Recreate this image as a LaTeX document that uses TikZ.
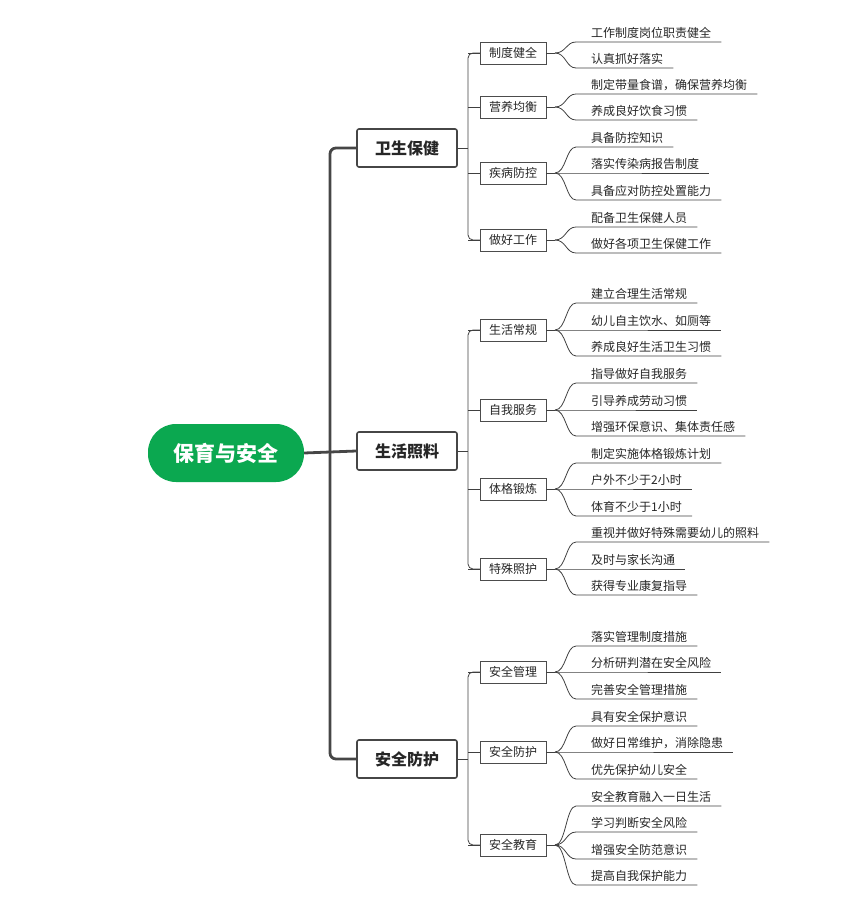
\documentclass[tikz,border=0pt]{standalone}
\usepackage{fontspec}
\setmainfont{Noto Sans CJK SC}
\begin{document}
\begin{tikzpicture}[x=1pt,y=-1pt,
 rootbox/.style={fill=rootgreen,text=white,rounded corners=28pt,minimum width=156pt,minimum height=58pt,font=\fontsize{21}{24}\selectfont\bfseries},
 lonebox/.style={draw=darkline,line width=1.6pt,rounded corners=2pt,minimum width=100pt,minimum height=38pt,font=\fontsize{16}{19}\selectfont\bfseries,text=black!85},
 ltwobox/.style={draw=black!70,line width=0.8pt,minimum width=66pt,minimum height=22pt,inner sep=0pt,font=\fontsize{12}{14}\selectfont,text=black!85},
 leaftext/.style={anchor=south west,inner xsep=0pt,inner ysep=3pt,font=\fontsize{12}{14}\selectfont,text=black!85},
 leafline/.style={draw=black!75,line width=0.8pt},
 spine/.style={draw=darkline,line width=2.8pt,rounded corners=6pt},
 midline/.style={draw=black!75,line width=0.8pt,rounded corners=5pt}]
\definecolor{rootgreen}{RGB}{11,168,80}
\definecolor{darkline}{RGB}{70,70,70}
\useasboundingbox (0,0) rectangle (860,901);
\newcommand\myleaf[3]{%
 \node[leaftext] (lf#2) at (591,#2) {#3};
 \draw[leafline] (555,#1) .. controls (566,#1) and (566,#2) .. (576,#2) -- ([xshift=10pt]lf#2.south east);}
\newcommand\mytwo[3]{%
 \node[ltwobox] (#1) at (513,#2) {#3};
 \draw[midline] (468,#2) -- (#1.west);
 \draw[leafline] (#1.east) -- (555,#2);}
\node[rootbox] (root) at (226,453) {保育与安全};
\node[lonebox] (a) at (407,148) {卫生保健};
\node[lonebox] (b) at (407,451) {生活照料};
\node[lonebox] (c) at (407,759) {安全防护};
\draw[spine] (a.west) -- (330,148) -- (330,759) -- (c.west);
\draw[spine,rounded corners=0pt] (root.east) -- (b.west);
% group a
\draw[leafline] (a.east) -- (468,148);
\draw[midline] (480,53) -- (468,53) -- (468,240) -- (480,240);
\mytwo{a1}{53}{制度健全}
\mytwo{a2}{107}{营养均衡}
\mytwo{a3}{173}{疾病防控}
\mytwo{a4}{240}{做好工作}
\myleaf{53}{42}{工作制度岗位职责健全}
\myleaf{53}{68}{认真抓好落实}
\myleaf{107}{94}{制定带量食谱，确保营养均衡}
\myleaf{107}{120}{养成良好饮食习惯}
\myleaf{173}{147}{具备防控知识}
\myleaf{173}{173}{落实传染病报告制度}
\myleaf{173}{200}{具备应对防控处置能力}
\myleaf{240}{227}{配备卫生保健人员}
\myleaf{240}{253}{做好各项卫生保健工作}
% group b
\draw[leafline] (b.east) -- (468,451);
\draw[midline] (480,330) -- (468,330) -- (468,569) -- (480,569);
\mytwo{b1}{330}{生活常规}
\mytwo{b2}{410}{自我服务}
\mytwo{b3}{489}{体格锻炼}
\mytwo{b4}{569}{特殊照护}
\myleaf{330}{303}{建立合理生活常规}
\myleaf{330}{330}{幼儿自主饮水、如厕等}
\myleaf{330}{356}{养成良好生活卫生习惯}
\myleaf{410}{383}{指导做好自我服务}
\myleaf{410}{410}{引导养成劳动习惯}
\myleaf{410}{436}{增强环保意识、集体责任感}
\myleaf{489}{463}{制定实施体格锻炼计划}
\myleaf{489}{489}{户外不少于2小时}
\myleaf{489}{516}{体育不少于1小时}
\myleaf{569}{542}{重视并做好特殊需要幼儿的照料}
\myleaf{569}{569}{及时与家长沟通}
\myleaf{569}{595}{获得专业康复指导}
% group c
\draw[leafline] (c.east) -- (468,759);
\draw[midline] (480,672) -- (468,672) -- (468,845) -- (480,845);
\mytwo{c1}{672}{安全管理}
\mytwo{c2}{752}{安全防护}
\mytwo{c3}{845}{安全教育}
\myleaf{672}{646}{落实管理制度措施}
\myleaf{672}{672}{分析研判潜在安全风险}
\myleaf{672}{699}{完善安全管理措施}
\myleaf{752}{726}{具有安全保护意识}
\myleaf{752}{752}{做好日常维护，消除隐患}
\myleaf{752}{779}{优先保护幼儿安全}
\myleaf{845}{806}{安全教育融入一日生活}
\myleaf{845}{832}{学习判断安全风险}
\myleaf{845}{859}{增强安全防范意识}
\myleaf{845}{885}{提高自我保护能力}
\end{tikzpicture}
\end{document}
